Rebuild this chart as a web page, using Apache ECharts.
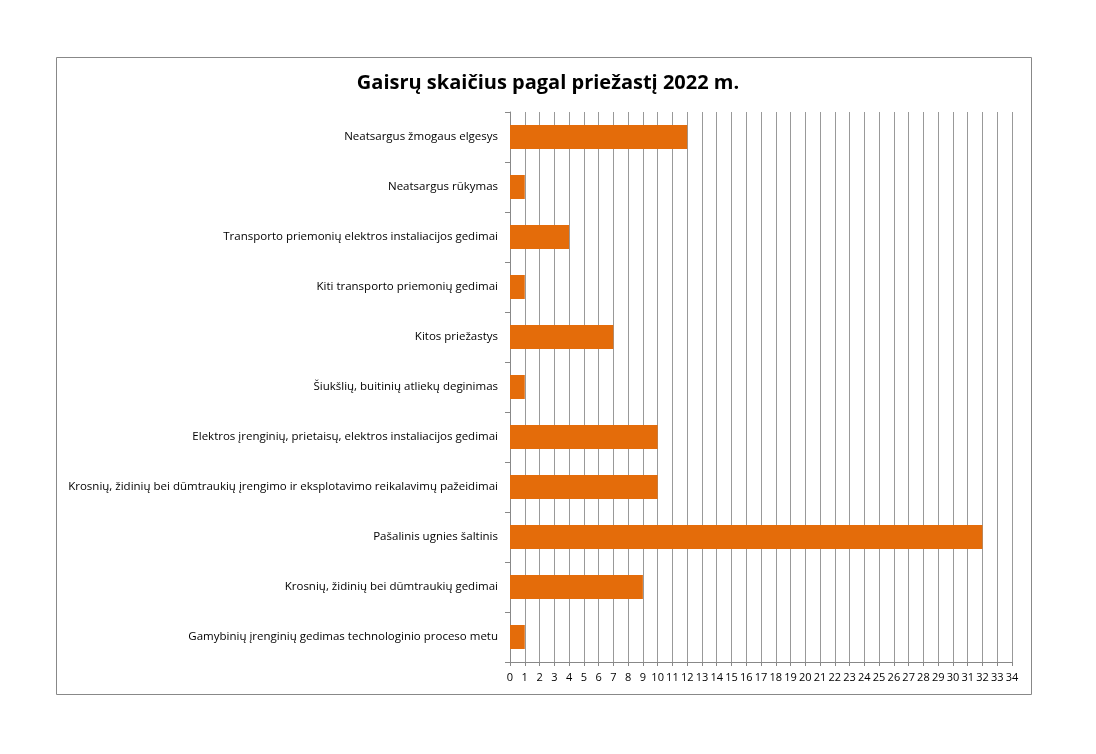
<!DOCTYPE html>
<html><head><meta charset="utf-8">
<script src="https://cdn.jsdelivr.net/npm/echarts@6/dist/echarts.min.js"></script>
<style>html,body{margin:0;background:#fff}#c{width:1096px;height:754px}</style>
</head><body><div id="c"></div>
<script>
const categories = [
 "Neatsargus žmogaus elgesys",
 "Neatsargus rūkymas",
 "Transporto priemonių elektros instaliacijos gedimai",
 "Kiti transporto priemonių gedimai",
 "Kitos priežastys",
 "Šiukšlių, buitinių atliekų deginimas",
 "Elektros įrenginių, prietaisų, elektros instaliacijos gedimai",
 "Krosnių, židinių bei dūmtraukių įrengimo ir eksplotavimo reikalavimų pažeidimai",
 "Pašalinis ugnies šaltinis",
 "Krosnių, židinių bei dūmtraukių gedimai",
 "Gamybinių įrenginių gedimas technologinio proceso metu"
];
const values = [12,1,4,1,7,1,10,10,32,9,1];
const chart = echarts.init(document.getElementById('c'));
chart.setOption({
 animation:false,
 textStyle:{fontFamily:'Open Sans, Noto Sans, sans-serif'},
 title:{text:'Gaisrų skaičius pagal priežastį 2022 m.',left:543,textAlign:'center',top:68,
   textStyle:{fontSize:20,fontWeight:'bold',color:'#000',fontFamily:'Open Sans, sans-serif'}},
 graphic:[{type:'rect',shape:{x:56.5,y:57.5,width:975,height:637},style:{fill:'none',stroke:'#888',lineWidth:1}}],
 grid:{left:510,right:84,top:112,bottom:92},
 xAxis:{type:'value',min:0,max:34,interval:1,
   axisLine:{show:true,lineStyle:{color:'#888'}},axisTick:{show:true,length:4,lineStyle:{color:'#888'}},
   axisLabel:{color:'#000',fontSize:11,margin:10},
   splitLine:{show:true,lineStyle:{color:'#999',width:1}}},
 yAxis:{type:'category',data:categories,inverse:true,
   axisLine:{show:true,lineStyle:{color:'#888'}},
   axisTick:{show:true,length:5,lineStyle:{color:'#888'}},
   axisLabel:{color:'#000',fontSize:11.5,margin:12}},
 series:[{type:'bar',data:values,barWidth:24,itemStyle:{color:'#E46C0A'}}]
});
</script></body></html>
